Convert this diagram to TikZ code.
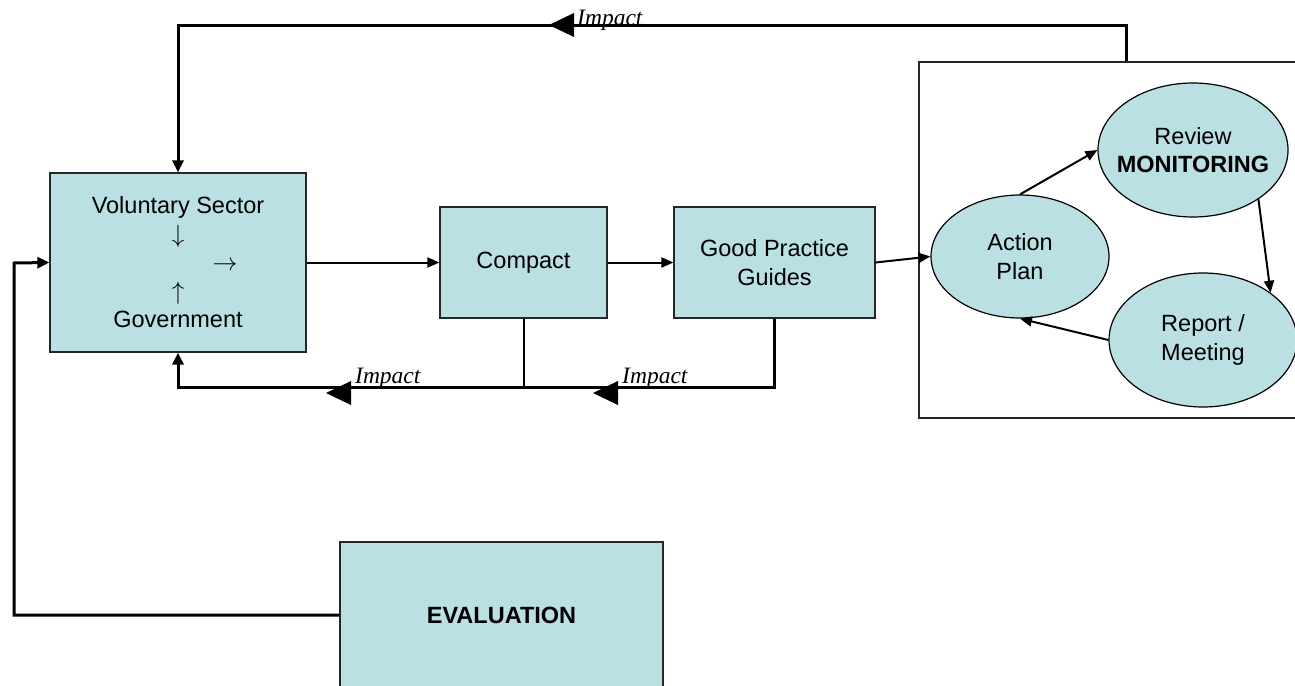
\documentclass[tikz,border=0pt]{standalone}
\usepackage{fontspec}
\setmainfont{Liberation Sans}
\newfontfamily\serifit{Liberation Serif}
\usepackage{tikz}
\usetikzlibrary{arrows.meta,shapes.geometric}
\definecolor{boxblue}{RGB}{187,224,227}

\begin{document}
\begin{tikzpicture}[x=1pt,y=-1pt,
    font=\fontsize{23.5}{28.5}\selectfont,
    box/.style={draw=black!85,line width=1.2pt,fill=boxblue,align=center,inner sep=0pt},
    oval/.style={ellipse,draw=black,line width=1.2pt,fill=boxblue,inner sep=0pt},
    link/.style={line width=2pt,-{Triangle[length=12pt,width=10pt]}},
    loopline/.style={line width=3pt},
    impact/.style={font=\serifit\itshape\fontsize{23.5}{28}\selectfont,inner sep=0pt,anchor=base west}]
    \useasboundingbox (0,0) rectangle (1295,685);
    \clip (0,0) rectangle (1295,685);

    % boxes
    \node[box,minimum width=256pt,minimum height=179pt] (vol) at (178,262.5)
        {Voluntary Sector\\$\downarrow$\\\hspace*{94pt}$\rightarrow$\\$\uparrow$\\Government};
    \node[box,minimum width=167pt,minimum height=111pt] (compact) at (523.5,262.5) {Compact};
    \node[box,minimum width=201pt,minimum height=111pt] (gpg) at (774.5,262.5) {Good Practice\\Guides};
    \node[box,minimum width=323pt,minimum height=146pt] (eval) at (501.5,615) {\textbf{EVALUATION}};

    % monitoring cycle
    \node[draw=black!85,line width=1.5pt,minimum width=382pt,minimum height=356pt] (monitor) at (1110,240) {};
    \node[oval,minimum width=178pt,minimum height=123pt,
        label={[align=center]center:Action\\Plan}] (action) at (1020,256.5) {};
    \node[oval,minimum width=190pt,minimum height=134pt,
        label={[align=center]center:Review\\\textbf{MONITORING}}] (review) at (1193,150) {};
    \node[oval,minimum width=188pt,minimum height=134pt,
        label={[align=center]center:Report /\\Meeting}] (report) at (1203,340) {};

    \draw[link] (vol.east) -- (compact.west);
    \draw[link] (compact.east) -- (gpg.west);
    \draw[link] (gpg.east) -- (action.west);
    \draw[link] (action.north) -- (review.west);
    \draw[link] (review.-37) -- (report.35);
    \draw[link] (report.west) -- (action.south);

    % feedback
    \draw[loopline,-{Triangle[length=12pt,width=11pt]}] ([xshift=208pt]monitor.north west) -- ++(0,-36) -| (vol.north);
    \draw[line width=2pt] (compact.south) -- ++(0,69);
    \draw[loopline,-{Triangle[length=12pt,width=11pt]}] (gpg.south) -- ++(0,69) -| (vol.south);
    \draw[loopline,-{Triangle[length=12pt,width=11pt]}] (eval.west) -| (14,263) -- (vol.west);
    \foreach \tx/\ty in {549/25,326/393,593/393}
        \fill (\tx,\ty) -- ++(25,-12) -- ++(0,24) -- cycle;

    \node[impact] (imptop) at (577,26) {Impact};
    \node[impact] (impleft) at (355,383) {Impact};
    \node[impact] (impright) at (622,383) {Impact};
\end{tikzpicture}
\end{document}
